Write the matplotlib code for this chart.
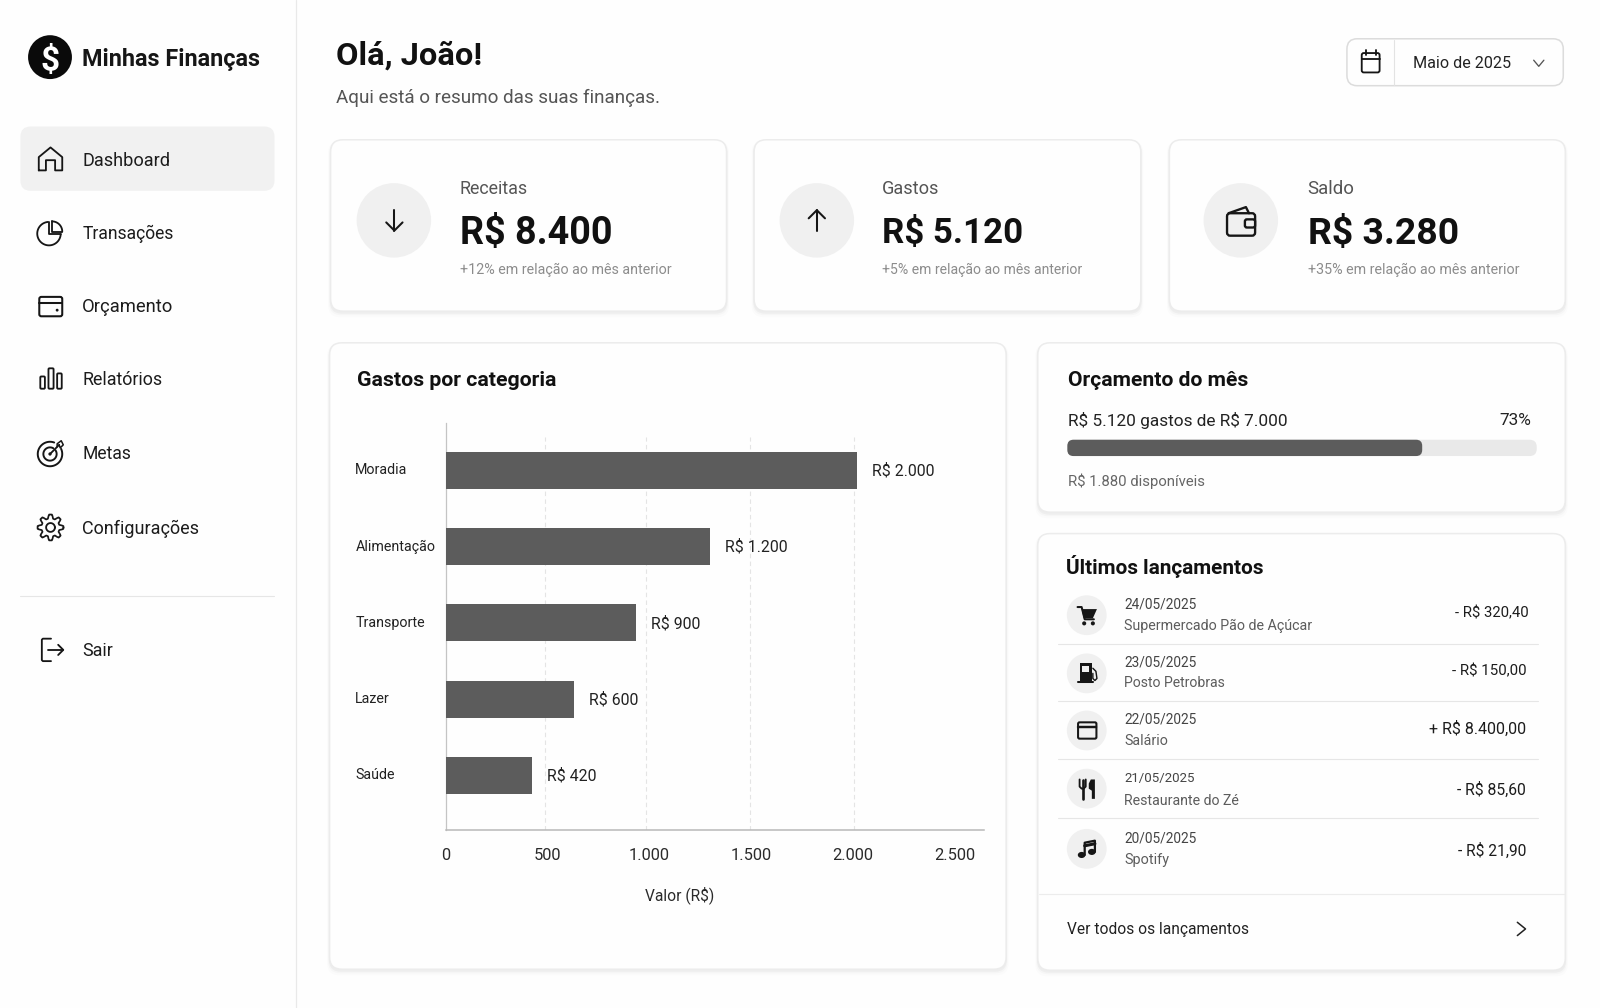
import numpy as np
import matplotlib
matplotlib.use("Agg")
import matplotlib.pyplot as plt
from matplotlib.patches import FancyBboxPatch, Circle, Rectangle, Polygon, Ellipse
from matplotlib.transforms import ScaledTranslation

plt.rcParams['font.family'] = ['Roboto', 'Inter', 'DejaVu Sans']

# ---------- data ----------
categories = ["Moradia", "Alimentação", "Transporte", "Lazer", "Saúde"]
bar_lengths = [2020, 1298, 932, 627, 421]          # lengths as drawn in the picture
bar_labels = ["R$ 2.000", "R$ 1.200", "R$ 900", "R$ 600", "R$ 420"]
x_ticks = [0, 500, 1000, 1500, 2000, 2500]
x_tick_labels = ["0", "500", "1.000", "1.500", "2.000", "2.500"]
grid_positions = [487, 983, 1494, 2005]

nav_items = ["Dashboard", "Transações", "Orçamento", "Relatórios", "Metas", "Configurações", "Sair"]
kpi_titles = ["Receitas", "Gastos", "Saldo"]
kpi_values = ["R$ 8.400", "R$ 5.120", "R$ 3.280"]
kpi_notes = ["+12% em relação ao mês anterior", "+5% em relação ao mês anterior", "+35% em relação ao mês anterior"]

tx_dates = ["24/05/2025", "23/05/2025", "22/05/2025", "21/05/2025", "20/05/2025"]
tx_names = ["Supermercado Pão de Açúcar", "Posto Petrobras", "Salário", "Restaurante do Zé", "Spotify"]
tx_amounts = ["- R$ 320,40", "- R$ 150,00", "+ R$ 8.400,00", "- R$ 85,60", "- R$ 21,90"]
budget_fill = 0.756

# ---------- canvas ----------
W, H = 1568.0, 988.0
fig = plt.figure(figsize=(16, 10.08), dpi=100, facecolor='#fefefe')
bg = fig.add_axes([0, 0, 1, 1])
bg.set_xlim(0, W); bg.set_ylim(H, 0); bg.axis('off')
renderer = fig.canvas.get_renderer()
K = 1600 / W
INK = '#161616'


def T(x0, x1, y, s, weight='normal', color=INK, base=16.0):
    """Text left aligned at x0, scaled so that it ends at x1, centred on y."""
    t = bg.text(x0 - 0.5, y - 0.8, s, fontsize=base, fontweight=weight, color=color, ha='left',
                va='center_baseline', parse_math=False)
    w = t.get_window_extent(renderer).width
    t.set_fontsize(base * (x1 - x0) * K / w)
    return t


def card(x0, y0, x1, y1, r=12):
    for i, a in zip((5, 3, 1.5), (0.012, 0.02, 0.03)):
        bg.add_patch(FancyBboxPatch((x0 - i / 2, y0 + 1), x1 - x0 + i, y1 - y0 + i,
                                    boxstyle=f"round,pad=0,rounding_size={r}",
                                    fc='black', ec='none', alpha=a, zorder=1))
    bg.add_patch(FancyBboxPatch((x0, y0), x1 - x0, y1 - y0, boxstyle=f"round,pad=0,rounding_size={r}",
                                fc='#fefefe', ec='#ececec', lw=1.1, zorder=2))


def L(xs, ys, lw=2.0, c=INK, z=5):
    bg.plot(xs, ys, color=c, lw=lw * 0.72 * K, solid_capstyle='round', solid_joinstyle='round', zorder=z)


def arc(cx, cy, r, a0, a1, lw=2.0, c=INK):
    a = np.radians(np.linspace(a0, a1, 60))
    L(cx + r * np.cos(a), cy - r * np.sin(a), lw, c)


def rrect(x0, y0, x1, y1, r=2, fc='none', ec=INK, lw=2.0, z=5):
    bg.add_patch(FancyBboxPatch((x0, y0), x1 - x0, y1 - y0, boxstyle=f"round,pad=0,rounding_size={r}",
                                fc=fc, ec=ec, lw=lw * 0.72 * K, zorder=z))


def disc(cx, cy, r, fc='#f0f0f0', z=3):
    bg.add_patch(Circle((cx, cy), r, fc=fc, ec='none', zorder=z))


# ---------- sidebar ----------
L([290, 290], [0, H], 1.2, '#e9e9e9', 1)
disc(49, 56, 21.5, '#0a0a0a')
bg.text(49, 56, "$", color='white', fontsize=24, fontweight='bold', ha='center', va='center_baseline', zorder=6,
        parse_math=False)
T(81, 255, 56.8, "Minhas Finanças", 'bold')
rrect(20, 124, 269, 187, 10, fc='#f1f1f1', ec='none', z=1)
nav_y = [156.8, 228, 300, 371, 444, 517, 637]
nav_x1 = [167, 171, 170, 160, 129, 196, 111]
for name, y, x1 in zip(nav_items, nav_y, nav_x1):
    T(81, x1, y, name, color='#1c1c1c')
L([20, 269], [584, 584], 1.1, '#e6e6e6', 1)

# home
L([38, 38, 49.5, 61, 61, 54, 54, 45, 45, 38], [167, 154, 144.5, 154, 167, 167, 157, 157, 167, 167], 1.8)
# pie
arc(48, 229, 11.5, 95, 355, 1.8)
L([48, 48, 59.5], [217.5, 229, 229], 1.8)
arc(51, 227, 10, 0, 90, 1.8)
L([51, 51, 61], [217, 227, 227], 1.8)
# wallet / budget
rrect(38.5, 291, 61, 310, 2)
L([38.5, 61], [297, 297])
disc(56, 304, 1.4, INK, 6)
# bars
rrect(39.5, 369, 44, 381, 1, lw=1.8)
rrect(47.5, 361, 52.5, 381, 1, lw=1.8)
rrect(56, 366, 60.5, 381, 1, lw=1.8)
# target
arc(49, 445, 12, 70, 385, 1.9)
arc(49, 445, 6.5, 60, 395, 1.9)
disc(49, 445, 1.6, INK, 6)
L([49, 58], [445, 436], 1.8)
L([56, 56, 60, 62, 59, 58], [438, 435, 432, 436, 439, 436], 1.5)
# gear
ang = np.radians(np.linspace(0, 360, 361))
rad = 10.8 + 1.9 * np.clip(1.5 * np.cos(8 * ang), -1, 1)
L(49.5 + rad * np.cos(ang), 517 - rad * np.sin(ang), 1.7)
arc(49.5, 517, 4.3, 0, 360, 1.8)
# exit
L([50, 42, 41, 41, 42, 50], [626, 626, 627, 647, 648, 648], 1.8)
L([47, 62], [637, 637], 1.8)
L([57, 62, 57], [632, 637, 642], 1.8)

# ---------- header ----------
T(330, 473, 52, "Olá, João!", 'bold', '#111111')
T(330, 648, 95, "Aqui está o resumo das suas finanças.", color='#555555')
rrect(1320, 38, 1532, 84, 10, fc='#fefefe', ec='#dcdcdc', lw=1.5, z=2)
L([1366, 1366], [39, 83], 1.1, '#e3e3e3', 3)
rrect(1334.5, 52, 1352, 71, 2, lw=1.8)
L([1334.5, 1352], [57.5, 57.5], 1.8)
L([1339, 1339], [49, 54], 1.8); L([1348, 1348], [49, 54], 1.8)
T(1385, 1481, 62, "Maio de 2025", color='#222222')
L([1503, 1508, 1513], [59, 65, 59], 1.3, '#555555')

# ---------- KPI cards ----------
kpi_boxes = [(324, 712), (739, 1118), (1146, 1534)]
kpi_disc = [386, 800.5, 1216]
kpi_left = [451, 865, 1282]
kpi_t1 = [518, 921, 1328]
kpi_v1 = [600, 1003, 1430]
kpi_n1 = [658, 1062, 1490]
for i in range(3):
    card(kpi_boxes[i][0], 137, kpi_boxes[i][1], 305)
    disc(kpi_disc[i], 216, 36.5)
    T(kpi_left[i], kpi_t1[i], 184, kpi_titles[i], color='#555555')
    T(kpi_left[i], kpi_v1[i], 226, kpi_values[i], 'bold', '#111111')
    T(kpi_left[i], kpi_n1[i], 264, kpi_notes[i], color='#8c8c8c')
L([386.5, 386.5], [206, 226]); L([378.5, 386.5, 394.5], [218, 226, 218])
L([800.5, 800.5], [206, 226]); L([792.5, 800.5, 808.5], [214, 206, 214])
rrect(1202.5, 209, 1230, 231, 3, lw=2.3)
L([1204, 1221, 1224], [209, 203, 209], 2.3)
rrect(1220, 215, 1230, 223, 2, fc='#f0f0f0', lw=2.3, z=6)

# ---------- lower cards ----------
card(323, 336, 986, 950)
card(1017, 336, 1534, 502)
card(1017, 523, 1534, 951)

T(350.5, 547, 371.5, "Gastos por categoria", 'bold', '#111111')
T(1047.5, 1225, 371.5, "Orçamento do mês", 'bold', '#111111')
T(1047.5, 1264, 411.5, "R$ 5.120 gastos de R$ 7.000", color='#222222')
T(1469.5, 1501, 411.5, "73%", color='#222222')
rrect(1046, 431, 1506, 447, 7, fc='#e9e9e9', ec='none', z=3)
rrect(1046, 431, 1046 + 460 * budget_fill, 447, 6, fc='#5c5c5c', ec='none', z=4)
T(1047.5, 1182, 471, "R$ 1.880 disponíveis", color='#666666')

T(1045.5, 1240, 554, "Últimos lançamentos", 'bold', '#111111')
row_disc = [603, 660, 716, 773, 832]
date_y = [592, 649, 705, 762, 821]
name_y = [613, 669, 726, 784, 842]
amount_y = [600, 657, 714, 773, 833]
name_x1 = [1287, 1201, 1145, 1215, 1146]
amount_x0 = [1426, 1423, 1401, 1428, 1429]
amount_x1 = [1498, 1496, 1496, 1496, 1496]
date_x1 = [1173, 1173, 1173, 1171, 1173]
for i in range(5):
    disc(1065, row_disc[i], 19.5)
    T(1102, date_x1[i], date_y[i], tx_dates[i], color='#444444')
    T(1102, name_x1[i], name_y[i], tx_names[i], color='#5c5c5c')
    T(amount_x0[i], amount_x1[i], amount_y[i], tx_amounts[i], color='#1c1c1c')
for y in [631, 687, 744, 802]:
    L([1037, 1507], [y, y], 1.1, '#e6e6e6', 3)
L([1018, 1533], [876, 876], 1.1, '#ececec', 3)
T(1046.5, 1224, 910.5, "Ver todos os lançamentos", color='#222222')
L([1487, 1495, 1487], [904, 910.5, 917], 1.5, '#222222')

# cart
L([1056, 1060, 1063, 1072], [595, 595, 607, 607], 2.0)
bg.add_patch(Polygon([(1060, 597), (1075, 597), (1071, 606), (1062, 606)], fc=INK, ec='none', zorder=5))
disc(1062.5, 611, 2, INK, 5); disc(1071, 611, 2, INK, 5)
# pump
bg.add_patch(Rectangle((1058, 650), 12, 17, fc=INK, ec='none', zorder=5))
bg.add_patch(Rectangle((1060.5, 653), 7, 5.5, fc='#f0f0f0', ec='none', zorder=6))
L([1056.5, 1071.5], [668, 668], 2.0)
L([1071, 1074, 1075, 1073, 1071, 1071], [655, 658, 665, 667, 665, 660], 1.4)
# card
rrect(1056.5, 708, 1074.5, 724, 1.5)
L([1056.5, 1074.5], [713, 713], 2.4)
# cutlery
L([1061, 1061], [765, 783], 2.6)
L([1058, 1058, 1060, 1062, 1064, 1064], [764, 771, 773, 773, 771, 764], 1.8)
bg.add_patch(Polygon([(1069, 764), (1073, 764), (1073, 783), (1070, 783), (1070, 775), (1067, 773), (1067, 768)],
                     fc=INK, ec='none', zorder=5))
# music
bg.add_patch(Ellipse((1060, 838), 7.5, 6, fc=INK, ec='none', zorder=5))
bg.add_patch(Ellipse((1070, 835), 7.5, 6, fc=INK, ec='none', zorder=5))
L([1063, 1063, 1073, 1073], [838, 826, 824, 835], 2.2)
L([1063, 1073], [829, 827], 3)

# ---------- bar chart, on its own axes ----------
UNIT = 0.1995
LEFT, RIGHT, TOP, BOTTOM = 437, 964, 415, 814
ax = fig.add_axes([LEFT / W, 1 - BOTTOM / H, (RIGHT - LEFT) / W, (BOTTOM - TOP) / H], facecolor='none')
ax.set_xlim(0, (RIGHT - LEFT) / UNIT)
ypos = np.arange(len(categories))
ax.set_ylim((BOTTOM - 461) / 74.75, (TOP - 461) / 74.75)
ax.barh(ypos, bar_lengths, height=0.485, color='#5c5c5c', zorder=3)
ax.vlines(grid_positions, (BOTTOM - 461) / 74.75, (428 - 461) / 74.75, colors='#e4e4e4',
          linestyles=(0, (4, 3)), lw=0.8, zorder=1)
for sp in ('top', 'right'):
    ax.spines[sp].set_visible(False)
ax.spines['left'].set_color('#c4c4c4')
ax.spines['bottom'].set_color('#b8b8b8')
ax.spines['left'].set_linewidth(0.9)
ax.spines['bottom'].set_linewidth(1.1)
ax.set_yticks(ypos, categories)
ax.tick_params(axis='y', length=0, pad=65.2, labelsize=10.3, labelcolor='#222222')
shift = ScaledTranslation(0, 1.0 / 72, fig.dpi_scale_trans)
for lb in ax.get_yticklabels():
    lb.set_ha('left')
    lb.set_transform(lb.get_transform() + shift)
ax.set_xticks(x_ticks, x_tick_labels)
ax.tick_params(axis='x', length=0, pad=12.5, labelsize=11.8, labelcolor='#2a2a2a')
ax.set_xlabel("Valor (R$)", fontsize=11.2, color='#2a2a2a', parse_math=False)
ax.xaxis.set_label_coords((666.5 - LEFT) / (RIGHT - LEFT), -(876 - 7 - BOTTOM) / (BOTTOM - TOP))
for y, v, s in zip(ypos, bar_lengths, bar_labels):
    ax.annotate(s, (v, y), xytext=(11, 0.7), textcoords='offset points', va='center_baseline',
                fontsize=11.4, color='#222222', parse_math=False)

fig.savefig("out.png", dpi=100, facecolor=fig.get_facecolor())
